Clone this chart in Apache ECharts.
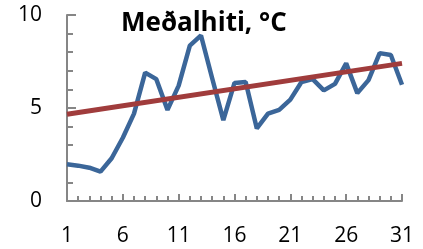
<!DOCTYPE html>
<html>
<head>
<meta charset="utf-8">
<script src="https://cdn.jsdelivr.net/npm/echarts@6/dist/echarts.min.js"></script>
<style>
  html, body { margin: 0; padding: 0; background: #fff; }
  #chart { width: 423px; height: 249px; }
</style>
</head>
<body>
<div id="chart"></div>
<script>
// dagar mánaðarins
var days = [];
for (var i = 1; i <= 31; i++) days.push(String(i));

// meðalhiti hvers dags, °C (lesið af mynd)
var temps = [1.97, 1.9, 1.79, 1.58, 2.3, 3.4, 4.7, 6.9, 6.55, 4.9,
             6.2, 8.35, 8.9, 6.6, 4.35, 6.35, 6.4, 3.9, 4.7, 4.9,
             5.45, 6.4, 6.55, 5.95, 6.3, 7.4, 5.8, 6.5, 7.95, 7.85, 6.25];

// leitnilína: gildi við fyrsta og síðasta dag
var trendDays = ['1', '31'];
var trendVals = [4.66, 7.4];

var axisGray = '#868686';
var font = 'Open Sans';

var chart = echarts.init(document.getElementById('chart'));
chart.setOption({
  animation: false,
  title: {
    text: 'Meðalhiti, °C',
    left: 116,
    top: 6,
    textStyle: { fontFamily: font, fontSize: 26, fontWeight: 'bold', color: '#000' }
  },
  grid: { left: 67, right: 21, top: 15, bottom: 48 },
  xAxis: [{
    type: 'category',
    data: days,
    boundaryGap: false,
    axisLine: { lineStyle: { color: axisGray, width: 2 } },
    axisTick: { show: true, inside: true, interval: 0, length: 5, lineStyle: { color: axisGray, width: 2 } },
    axisLabel: { interval: 4, margin: 25, fontFamily: font, fontSize: 21, color: '#000' },
    splitLine: { show: false }
  }, {
    // lengri merki við hvern 5. dag
    type: 'category',
    data: days,
    boundaryGap: false,
    position: 'bottom',
    axisLine: { show: false },
    axisTick: { show: true, inside: true, interval: 4, length: 7, lineStyle: { color: axisGray, width: 2 } },
    axisLabel: { show: false },
    splitLine: { show: false }
  }],
  yAxis: {
    type: 'value',
    min: 0,
    max: 10,
    interval: 5,
    axisLine: { show: true, lineStyle: { color: axisGray, width: 2 } },
    axisTick: { show: true, inside: true, length: 9, lineStyle: { color: axisGray, width: 2 } },
    minorTick: { show: true, splitNumber: 5, length: 6, lineStyle: { color: axisGray, width: 2 } },
    axisLabel: { margin: 25, fontFamily: font, fontSize: 21, color: '#000' },
    splitLine: { show: false }
  },
  series: [{
    type: 'line',
    data: temps,
    symbol: 'none',
    lineStyle: { color: '#3B6699', width: 4.5 },
    z: 2
  }, {
    type: 'line',
    data: trendDays.map(function (d, i) { return [d, trendVals[i]]; }),
    symbol: 'none',
    lineStyle: { color: '#A03C3C', width: 5 },
    z: 3
  }]
});
</script>
</body>
</html>
